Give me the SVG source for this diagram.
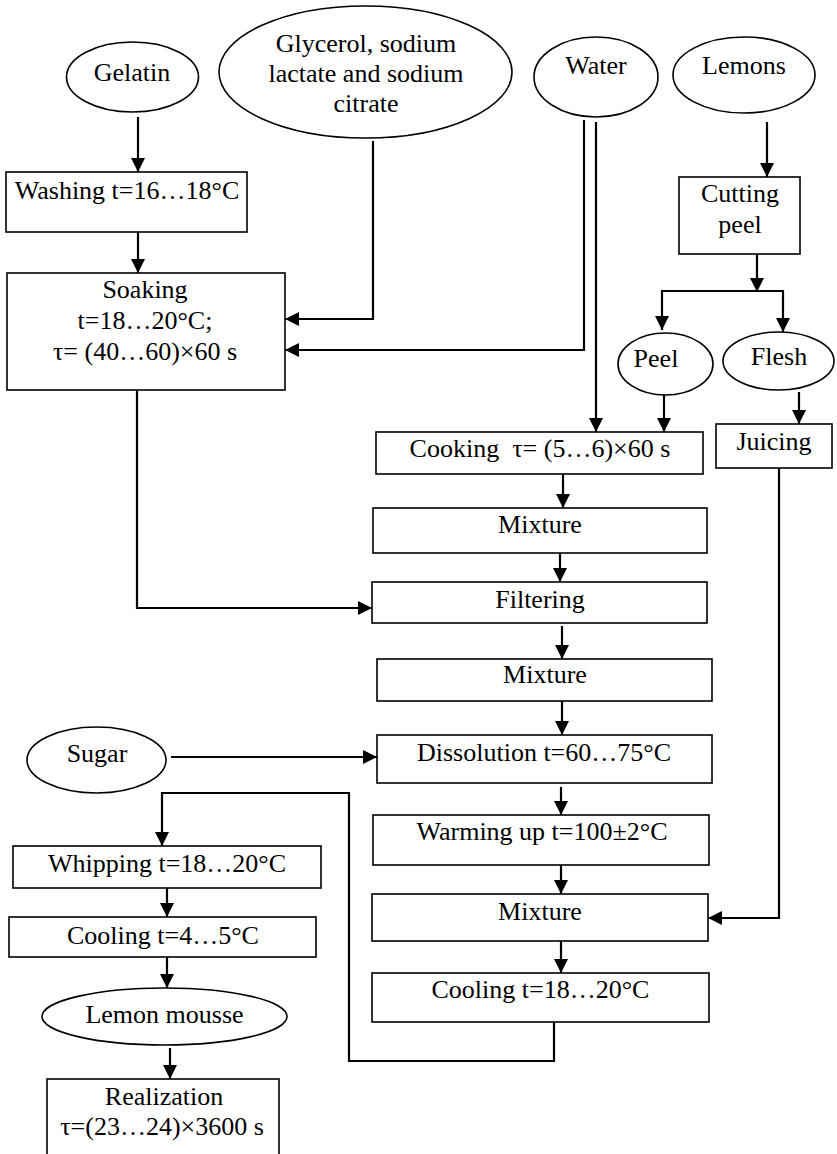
<svg xmlns="http://www.w3.org/2000/svg" width="837" height="1154" viewBox="0 0 837 1154" font-family="Liberation Serif" font-size="26">
<style>
.b{fill:#fff;stroke:#000;stroke-width:1.6}
.e{fill:#fff;stroke:#000;stroke-width:1.6}
.t{fill:#000;text-anchor:middle}
.c path{fill:none;stroke:#000;stroke-width:2.2;marker-end:url(#ah)}
</style>
<defs>
<marker id="ah" markerUnits="userSpaceOnUse" markerWidth="14" markerHeight="14" refX="14" refY="7" orient="auto-start-reverse">
<path d="M0,0 L14,7 L0,14 z" fill="#000"/>
</marker>
</defs>
<rect width="837" height="1154" fill="#fff"/>
<g class="c" id="connectors">
<path d="M138,117 V172"/>
<path d="M138,232 V273"/>
<path d="M373,141 V319 H285"/>
<path d="M584,120 V350 H285"/>
<path d="M596,122 V432"/>
<path d="M767,122 V177"/>
<path d="M757,250 V292"/>
<path d="M662,330 V291 H783 V332" style="marker-start:url(#ah)"/>
<path d="M664,394 V432"/>
<path d="M799,392 V424"/>
<path d="M779,468 V918 H708"/>
<path d="M563,474 V508"/>
<path d="M560,553 V582"/>
<path d="M137,390 V608 H372"/>
<path d="M562,626 V659"/>
<path d="M562,701 V735"/>
<path d="M171,757 H377"/>
<path d="M561,787 V815"/>
<path d="M561,865 V894"/>
<path d="M561,941 V973"/>
<path d="M554,1022 V1061 H349 V793 H162 V846"/>
<path d="M167,888 V917"/>
<path d="M167,957 V988"/>
<path d="M170,1048 V1079"/>
</g>
<g id="gelatin"><ellipse class="e" cx="132.5" cy="77" rx="66" ry="35"/><text class="t" x="132" y="81">Gelatin</text></g>
<g id="glycerol"><ellipse class="e" cx="365.5" cy="72" rx="146.5" ry="66"/><text class="t" x="366" y="52">Glycerol, sodium</text><text class="t" x="366" y="82">lactate and sodium</text><text class="t" x="366" y="112">citrate</text></g>
<g id="water"><ellipse class="e" cx="596" cy="77" rx="62" ry="40"/><text class="t" x="596" y="74">Water</text></g>
<g id="lemons"><ellipse class="e" cx="744" cy="75" rx="71" ry="38"/><text class="t" x="744" y="74">Lemons</text></g>
<g id="washing"><rect class="b" x="6" y="172" width="241" height="60"/><text class="t" x="127" y="199">Washing t=16…18°C</text></g>
<g id="soaking"><rect class="b" x="7" y="273" width="278" height="117"/><text class="t" x="145" y="298">Soaking</text><text class="t" x="145" y="329">t=18…20°C;</text><text class="t" x="145" y="360">τ= (40…60)×60 s</text></g>
<g id="cutting"><rect class="b" x="679" y="177" width="121" height="77"/><text class="t" x="740" y="202">Cutting</text><text class="t" x="740" y="233">peel</text></g>
<g id="peel"><ellipse class="e" cx="665.5" cy="364" rx="47.5" ry="31"/><text class="t" x="656" y="367">Peel</text></g>
<g id="flesh"><ellipse class="e" cx="778.5" cy="361" rx="55.5" ry="29"/><text class="t" x="779" y="365">Flesh</text></g>
<g id="juicing"><rect class="b" x="716" y="424" width="116" height="44"/><text class="t" x="774" y="450">Juicing</text></g>
<g id="cooking"><rect class="b" x="376" y="432" width="327" height="42"/><text class="t" x="540" y="457">Cooking&#160; τ= (5…6)×60 s</text></g>
<g id="mixture1"><rect class="b" x="373" y="508" width="334" height="45"/><text class="t" x="540" y="533">Mixture</text></g>
<g id="filtering"><rect class="b" x="372" y="582" width="335" height="41"/><text class="t" x="540" y="608">Filtering</text></g>
<g id="mixture2"><rect class="b" x="377" y="659" width="335" height="42"/><text class="t" x="545" y="683">Mixture</text></g>
<g id="sugar"><ellipse class="e" cx="96.5" cy="760" rx="69.5" ry="33"/><text class="t" x="97" y="762">Sugar</text></g>
<g id="dissolution"><rect class="b" x="377" y="735" width="335" height="48"/><text class="t" x="544" y="761">Dissolution t=60…75°C</text></g>
<g id="warming"><rect class="b" x="373" y="815" width="336" height="50"/><text class="t" x="542" y="840">Warming up t=100±2°C</text></g>
<g id="mixture3"><rect class="b" x="372" y="894" width="336" height="47"/><text class="t" x="540" y="920">Mixture</text></g>
<g id="cooling2"><rect class="b" x="372" y="973" width="337" height="49"/><text class="t" x="540.5" y="998">Cooling t=18…20°C</text></g>
<g id="whipping"><rect class="b" x="13" y="846" width="308" height="42"/><text class="t" x="167" y="872">Whipping t=18…20°C</text></g>
<g id="cooling1"><rect class="b" x="9" y="917" width="307" height="40"/><text class="t" x="163" y="944">Cooling t=4…5°C</text></g>
<g id="mousse"><ellipse class="e" cx="164.5" cy="1016.5" rx="122.5" ry="28.5"/><text class="t" x="164.5" y="1023">Lemon mousse</text></g>
<g id="realization"><rect class="b" x="47" y="1079" width="232" height="85"/><text class="t" x="164" y="1105">Realization</text><text class="t" x="162" y="1135">τ=(23…24)×3600 s</text></g>
</svg>
